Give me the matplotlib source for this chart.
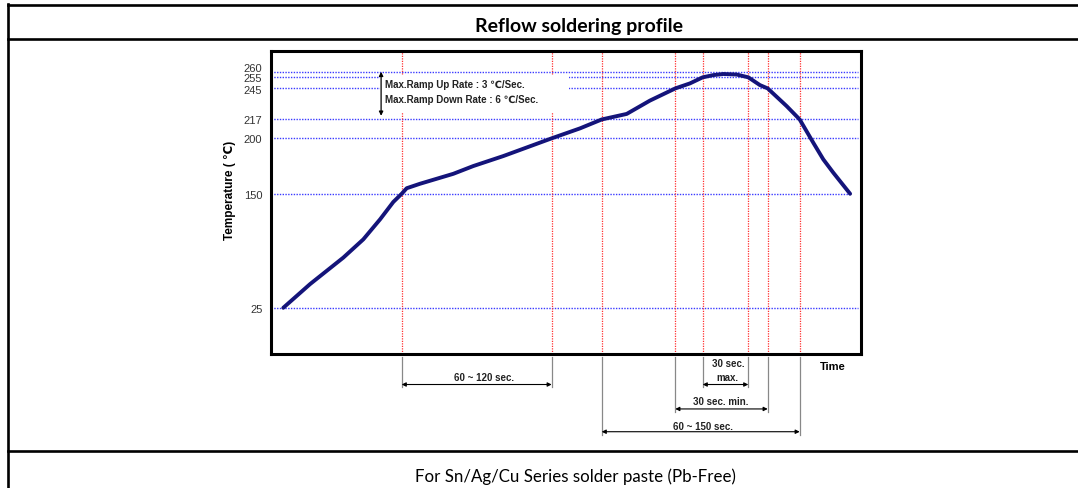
import numpy as np
import matplotlib
matplotlib.use('Agg')
import matplotlib.pyplot as plt
import matplotlib.transforms as mtransforms
from matplotlib.patches import Rectangle

plt.rcParams['font.family'] = ['Liberation Sans', 'DejaVu Sans']

# profile curve (time in arbitrary sec units, temperature in degC)
curve_t = [6.3, 19.7, 36.3, 46.3, 54.7, 61.3, 65.5, 68.0, 74.6, 91.3, 101.3, 116.3, 140.5,
           154.7, 165.5, 178.0, 189.6, 202.3, 209.6, 216.0, 221.3, 226.3, 233.0, 238.8,
           244.6, 248.5, 258.0, 264.5, 271.3, 276.3, 281.3, 289.7]
curve_temp = [25, 51, 80, 100, 122, 141, 150, 155, 159, 168, 175, 184, 200,
              209, 217, 222, 234, 245, 249.5, 255, 257, 258, 257.5, 255,
              248, 245, 229, 217, 196, 181, 169, 150]

temp_levels = [25, 150, 200, 217, 245, 255, 260]
temp_line_end = [293.6, 289.7, 293.6, 293.6, 293.6, 293.6, 293.6]
time_marks = [65.5, 140.5, 165.5, 202.3, 216.0, 238.8, 248.5, 264.5]

# dimension labels: (start, end, text, text x, arrow level, extension level, text level)
spans = [
    (65.5, 140.5, '60 ~ 120 sec.', 106.6, -0.0995, -0.108, -0.074),
    (216.0, 238.8, '30 sec.\nmax.', 228.6, -0.0995, -0.108, -0.052),
    (202.3, 248.5, '30 sec. min.', 225.0, -0.180, -0.19, -0.154),
    (165.5, 264.5, '60 ~ 150 sec.', 216.1, -0.255, -0.266, -0.236),
]

ramp_text = ['Max.Ramp Up Rate : 3 \u2103/Sec.', 'Max.Ramp Down Rate : 6 \u2103/Sec.']


# the y axis is stretched more above 150 than below it
def fwd(t):
    t = np.asarray(t, dtype=float)
    return np.where(t < 150, (t - 25) * 0.912, 114.0 + (t - 150) * 1.109)


def inv(u):
    u = np.asarray(u, dtype=float)
    return np.where(u < 114.0, u / 0.912 + 25, (u - 114.0) / 1.109 + 150)


fig = plt.figure(figsize=(10.78, 4.89), dpi=100)

# table frame
W, H = 1078.0, 489.0
for yy in [6, 40.3, 452.3]:
    fig.add_artist(plt.Line2D([8.3 / W, 1], [1 - yy / H] * 2, color='k', lw=1.9))
fig.add_artist(plt.Line2D([8.3 / W] * 2, [0, 1 - 4.5 / H], color='k', lw=1.9))
fig.text(579 / W, 1 - 26.5 / H, 'Reflow soldering profile', ha='center', va='center',
         fontsize=14, fontweight='bold', family='Lato')
fig.text(575.5 / W, 1 - 477 / H, 'For Sn/Ag/Cu Series solder paste (Pb-Free)', ha='center',
         va='center', fontsize=12.2, family='Lato')

ax = fig.add_axes([270.7 / W, 1 - 355.3 / H, (861 - 270.7) / W, (355.3 - 51.7) / H])
ax.set_yscale('function', functions=(fwd, inv))
ax.set_xlim(0, 295.15)
ax.set_ylim(-26, 279)

ax.plot(curve_t, curve_temp, color='#14147a', lw=2.8, solid_capstyle='round',
        solid_joinstyle='round', zorder=5)

for lv, xe in zip(temp_levels, temp_line_end):
    ax.hlines(lv, 0, xe, color='#3b3bff', lw=1.0, linestyles=(0, (1, 1)), zorder=2)
for xm in time_marks:
    ax.axvline(xm, color='#ff3030', lw=0.9, ls=(0, (1, 1)), zorder=2)

# white box behind the ramp-rate notes
ax.add_patch(Rectangle((54.6, 223.7), 149.2 - 54.6, 257 - 223.7, facecolor='white',
                       edgecolor='none', zorder=3))
ax.annotate('', xy=(55.2, 260), xytext=(55.2, 220.3),
            arrowprops=dict(arrowstyle='<|-|>', color='k', lw=0.9, mutation_scale=6,
                            shrinkA=0, shrinkB=0), zorder=6)
ax.text(57.2, 248.9, ramp_text[0], fontsize=7, fontweight='bold', color='#222222',
        va='center', ha='left', zorder=6)
ax.text(57.2, 235.4, ramp_text[1], fontsize=7, fontweight='bold', color='#222222',
        va='center', ha='left', zorder=6)

ax.set_yticks(temp_levels)
ax.set_yticklabels([str(v) for v in temp_levels])
ax.set_xticks([])
ax.tick_params(axis='y', length=0, pad=6, labelsize=8, labelcolor='#333333')
# the three top labels sit close together, nudge them apart a little
nudge = {'260': 4.3, '255': 0.5, '245': -0.6}
for lab in ax.get_yticklabels():
    dy = nudge.get(lab.get_text(), 0)
    if dy:
        lab.set_transform(lab.get_transform() +
                          mtransforms.ScaledTranslation(0, dy / 100.0, fig.dpi_scale_trans))
for s in ax.spines.values():
    s.set_linewidth(2.2)
    s.set_color('black')

ax.set_ylabel('Temperature ( \u2103)', fontsize=8.5, fontweight='bold')
ax.yaxis.set_label_coords(-(270.7 - 236) / (861 - 270.7), 0.544)

trans = ax.get_xaxis_transform()
for x0, x1, label, xt, ya, ye, yt in spans:
    for xx in (x0, x1):
        ax.plot([xx, xx], [-0.009, ye], color='#888888', lw=0.9, transform=trans, clip_on=False)
    ax.annotate('', xy=(x0, ya), xytext=(x1, ya), xycoords=trans, textcoords=trans,
                arrowprops=dict(arrowstyle='<|-|>', color='k', lw=0.8, mutation_scale=6,
                                shrinkA=0, shrinkB=0), annotation_clip=False)
    ax.text(xt, yt, label, transform=trans, ha='center', va='center',
            fontsize=7, fontweight='bold', color='#222222', linespacing=1.5)

ax.text(281, -0.0375, 'Time', transform=trans, ha='center', va='center', fontsize=8,
        fontweight='bold')

fig.savefig('out.png', dpi=100)
